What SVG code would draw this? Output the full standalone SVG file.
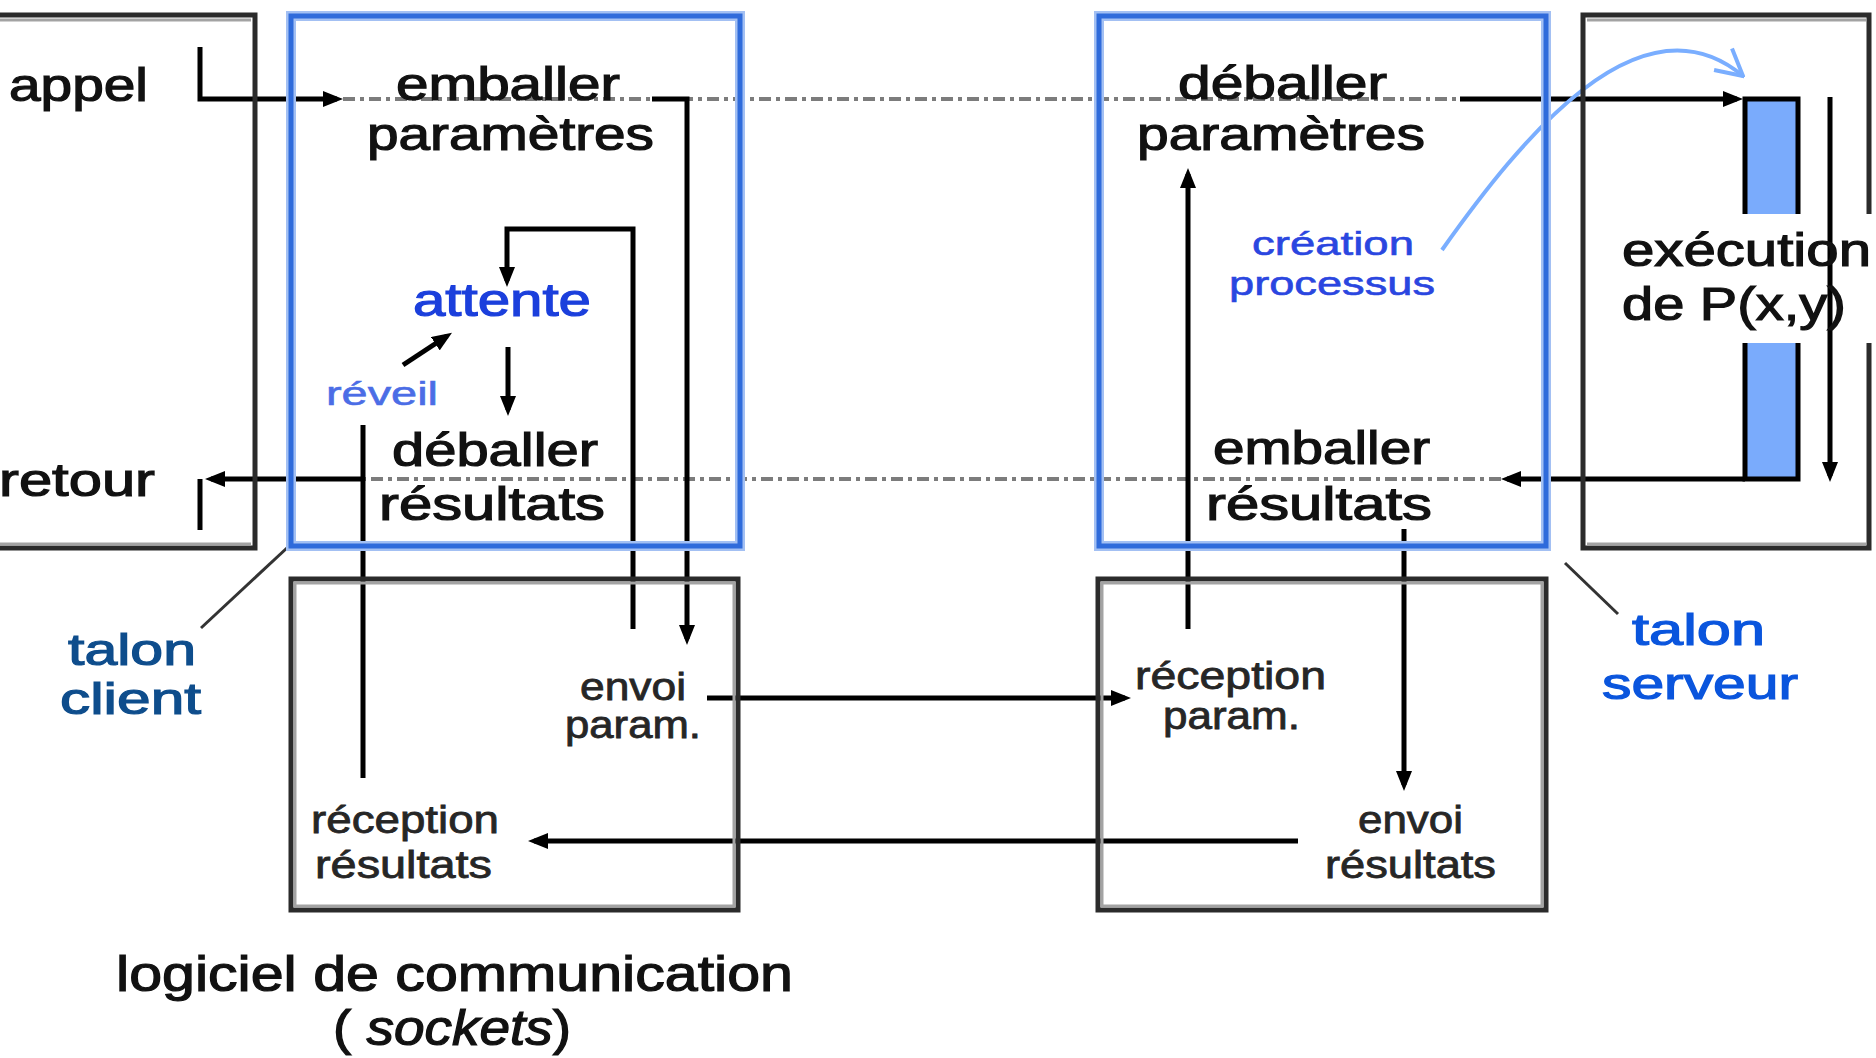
<svg xmlns="http://www.w3.org/2000/svg" width="1876" height="1058" viewBox="0 0 1876 1058">
<style>
.box{fill:none;stroke:#2b2b2b;stroke-width:5}
.boxin{fill:none;stroke:#a3a3a3;stroke-width:3}
.stubo{fill:none;stroke:#a3c0f3;stroke-width:10}
.stub{fill:none;stroke:#2f6bdb;stroke-width:5}
.t{font-family:"Liberation Sans",Arial,sans-serif;fill:#111;stroke:#111;stroke-width:1.2;paint-order:stroke}
.big{font-size:46px}
.sm{font-size:38px;fill:#262626;stroke:#262626;stroke-width:0.8}
.blue{font-size:34px;stroke-width:0.6}
.conn{fill:none;stroke:#000;stroke-width:5}
.dash{fill:none;stroke:#7c7c7c;stroke-width:4;stroke-dasharray:12 5 4 5}
.lead{fill:none;stroke:#333;stroke-width:3}
.bar{fill:#7aabfc;stroke:none}
</style>
<defs>
<marker id="ah" markerUnits="userSpaceOnUse" viewBox="0 0 20 16" markerWidth="20" markerHeight="16" refX="14" refY="8" orient="auto">
<path d="M0,0 L20,8 L0,16 Z" fill="#000"/>
</marker>
<marker id="oa" markerUnits="userSpaceOnUse" viewBox="-2 -2 30 32" markerWidth="30" markerHeight="32" refX="26" refY="14" orient="auto">
<path d="M0,0 L26,14 L0,28" fill="none" stroke="#7aaeff" stroke-width="4"/>
</marker>
</defs>
<rect x="0" y="0" width="1876" height="1058" fill="#fff"/>

<g id="connectors">
<path class="dash" d="M343,99 H1460"/>
<path class="dash" d="M1501,479 H363"/>
<path class="conn" d="M200,47 V99 H337" marker-end="url(#ah)"/>
<path class="conn" d="M652,99 H687 V639" marker-end="url(#ah)"/>
<path class="conn" d="M1460,99 H1737" marker-end="url(#ah)"/>
<path class="conn" d="M1830,97 V476" marker-end="url(#ah)"/>
<path class="conn" d="M1745,479 H1507" marker-end="url(#ah)"/>
<path class="conn" d="M363,479 H211" marker-end="url(#ah)"/>
<path class="conn" d="M200,479 V530"/>
<path class="conn" d="M363,425 V778"/>
<path class="conn" d="M633,629 V229 H507 V281" marker-end="url(#ah)"/>
<path class="conn" d="M508,347 V410" marker-end="url(#ah)"/>
<path class="conn" d="M403,365 L447,336" stroke-width="4" marker-end="url(#ah)"/>
<path class="conn" d="M1188,629 V174" marker-end="url(#ah)"/>
<path class="conn" d="M1404,529 V785" marker-end="url(#ah)"/>
<path class="conn" d="M707,698 H1125" marker-end="url(#ah)"/>
<path class="conn" d="M1298,841 H534" marker-end="url(#ah)"/>
<path class="lead" d="M288,547 L201,628"/>
<path class="lead" d="M1565,563 L1618,614"/>
<path d="M1442,250 C1520,140 1640,-10 1743,76" fill="none" stroke="#7aaeff" stroke-width="4" marker-end="url(#oa)"/>
</g>

<g id="client-app">
<rect class="box" x="-10" y="15" width="265" height="533"/>
<path class="boxin" d="M-10,20 H251 M-10,544 H251"/>
<text class="t big" x="9" y="101" textLength="139" lengthAdjust="spacingAndGlyphs">appel</text>
<text class="t big" x="-1" y="496" textLength="156" lengthAdjust="spacingAndGlyphs">retour</text>
</g>

<g id="client-stub">
<rect class="stubo" x="291" y="16" width="449" height="530"/>
<rect class="stub" x="291" y="16" width="449" height="530"/>
<text class="t big" x="396" y="100" textLength="224" lengthAdjust="spacingAndGlyphs">emballer</text>
<text class="t big" x="367" y="150" textLength="287" lengthAdjust="spacingAndGlyphs">paramètres</text>
<text class="t big" x="413" y="316" textLength="178" lengthAdjust="spacingAndGlyphs" style="fill:#1b3fdc;stroke:#1b3fdc">attente</text>
<text class="t blue" x="326" y="405" textLength="112" lengthAdjust="spacingAndGlyphs" style="fill:#4b6de6;stroke:#4b6de6">réveil</text>
<text class="t big" x="392" y="466" textLength="206" lengthAdjust="spacingAndGlyphs">déballer</text>
<text class="t big" x="379" y="520" textLength="226" lengthAdjust="spacingAndGlyphs">résultats</text>
</g>

<g id="client-label">
<text class="t" x="68" y="665" font-size="44" textLength="128" lengthAdjust="spacingAndGlyphs" style="fill:#0e4d8c;stroke:#0e4d8c">talon</text>
<text class="t" x="60" y="714" font-size="44" textLength="141" lengthAdjust="spacingAndGlyphs" style="fill:#0e4d8c;stroke:#0e4d8c">client</text>
</g>

<g id="client-comm">
<rect class="box" x="291" y="579" width="447" height="331"/>
<rect class="boxin" x="295" y="583" width="439" height="323"/>
<text class="t sm" x="580" y="700" textLength="106" lengthAdjust="spacingAndGlyphs">envoi</text>
<text class="t sm" x="565" y="738" textLength="136" lengthAdjust="spacingAndGlyphs">param.</text>
<text class="t sm" x="311" y="833" textLength="188" lengthAdjust="spacingAndGlyphs">réception</text>
<text class="t sm" x="315" y="878" textLength="177" lengthAdjust="spacingAndGlyphs">résultats</text>
</g>

<g id="comm-label">
<text class="t" x="116" y="991" font-size="50" textLength="677" lengthAdjust="spacingAndGlyphs">logiciel de communication</text>
<text class="t" x="333" y="1045" font-size="50" textLength="238" lengthAdjust="spacingAndGlyphs">( <tspan font-style="italic">sockets</tspan>)</text>
</g>

<g id="server-stub">
<rect class="stubo" x="1099" y="16" width="447" height="530"/>
<rect class="stub" x="1099" y="16" width="447" height="530"/>
<text class="t big" x="1178" y="99" textLength="209" lengthAdjust="spacingAndGlyphs">déballer</text>
<text class="t big" x="1137" y="150" textLength="288" lengthAdjust="spacingAndGlyphs">paramètres</text>
<text class="t blue" x="1252" y="255" textLength="162" lengthAdjust="spacingAndGlyphs" style="fill:#2a46e0;stroke:#2a46e0">création</text>
<text class="t blue" x="1229" y="295" textLength="206" lengthAdjust="spacingAndGlyphs" style="fill:#2a46e0;stroke:#2a46e0">processus</text>
<text class="t big" x="1213" y="464" textLength="217" lengthAdjust="spacingAndGlyphs">emballer</text>
<text class="t big" x="1206" y="520" textLength="226" lengthAdjust="spacingAndGlyphs">résultats</text>
</g>

<g id="server-exec">
<path class="box" d="M1869,214 V15 H1583 V548 H1869 V343"/>
<path class="boxin" d="M1587,20 H1866 M1587,544 H1866"/>
<rect class="bar" x="1745" y="99" width="53" height="115"/>
<rect class="bar" x="1745" y="343" width="53" height="136"/>
<path class="conn" d="M1745,214 V99 H1798 V214"/>
<path class="conn" d="M1745,343 V479 H1798 V343"/>
<text class="t big" x="1622" y="266" textLength="249" lengthAdjust="spacingAndGlyphs">exécution</text>
<text class="t big" x="1622" y="320" textLength="224" lengthAdjust="spacingAndGlyphs">de P(x,y)</text>
</g>

<g id="server-comm">
<rect class="box" x="1098" y="579" width="448" height="331"/>
<rect class="boxin" x="1102" y="583" width="440" height="323"/>
<text class="t sm" x="1135" y="689" textLength="191" lengthAdjust="spacingAndGlyphs">réception</text>
<text class="t sm" x="1163" y="729" textLength="137" lengthAdjust="spacingAndGlyphs">param.</text>
<text class="t sm" x="1358" y="833" textLength="105" lengthAdjust="spacingAndGlyphs">envoi</text>
<text class="t sm" x="1325" y="878" textLength="171" lengthAdjust="spacingAndGlyphs">résultats</text>
</g>

<g id="server-label">
<text class="t" x="1632" y="645" font-size="44" textLength="133" lengthAdjust="spacingAndGlyphs" style="fill:#0a55dd;stroke:#0a55dd">talon</text>
<text class="t" x="1602" y="699" font-size="44" textLength="196" lengthAdjust="spacingAndGlyphs" style="fill:#0a55dd;stroke:#0a55dd">serveur</text>
</g>
</svg>
